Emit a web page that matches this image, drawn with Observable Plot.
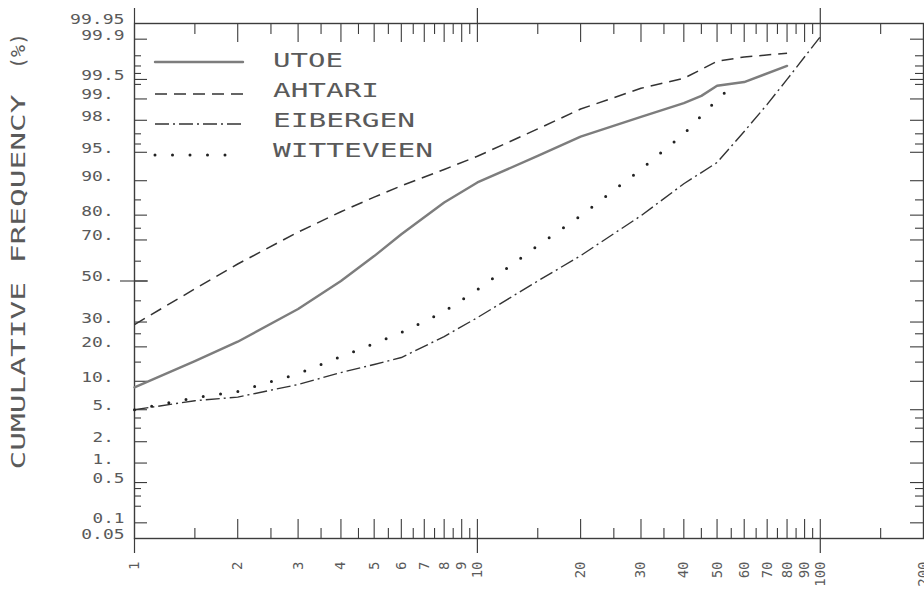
<!DOCTYPE html>
<html>
<head>
<meta charset="utf-8">
<script src="https://cdn.jsdelivr.net/npm/d3@7"></script>
<script src="https://cdn.jsdelivr.net/npm/@observablehq/plot@0.6"></script>
<style>
  html, body { margin: 0; padding: 0; background: #fff; }
  #chart svg { display: block; }
</style>
</head>
<body>
<div id="chart"></div>
<script>
// ---------------- data ----------------
const seriesNames = ["UTOE", "AHTARI", "EIBERGEN", "WITTEVEEN"];

const utoeX = [1, 1.5, 2, 3, 4, 5, 6, 8, 10, 15, 20, 30, 40, 45, 50, 60, 80];
const utoeP = [8.7, 15.3, 21.9, 36, 50, 62.5, 72.5, 84.2, 89.6, 94.5, 96.75, 98.2, 98.85, 99.1, 99.37, 99.45, 99.70];

const ahtariX = [1, 1.5, 2, 3, 4, 5, 6, 8, 10, 15, 20, 30, 40, 50, 60, 80];
const ahtariP = [28.9, 46, 58.6, 73.4, 81.2, 85.8, 88.8, 92.3, 94.45, 97.4, 98.6, 99.31, 99.52, 99.75, 99.79, 99.82];

const eibergenX = [1, 1.5, 2, 3, 4, 5, 6, 8, 10, 15, 20, 30, 40, 50, 60, 70, 80, 100];
const eibergenP = [5.0, 6.3, 6.9, 9.3, 12.1, 14.3, 16.4, 23.9, 32, 50, 62.7, 79.8, 89.3, 93.5, 97.2, 98.8, 99.5, 99.91];

const witteveenX = [1, 1.5, 2, 3, 4, 5, 6, 8, 10, 15, 20, 30, 40, 50, 55];
const witteveenP = [5.0, 6.8, 7.9, 11.8, 16.7, 21.2, 25.5, 34.8, 45.6, 67.4, 79.8, 92.3, 97.0, 98.97, 99.35];

// axis ticks
const xLabelValues = [1, 2, 3, 4, 5, 6, 7, 8, 9, 10, 20, 30, 40, 50, 60, 70, 80, 90, 100, 200];
const xMajorTicks = [2, 3, 4, 5, 6, 7, 8, 9, 10, 20, 30, 40, 50, 60, 70, 80, 90, 100];
const xMinorTicks = [1.5, 2.5, 3.5, 4.5, 5.5, 6.5, 7.5, 8.5, 9.5, 15, 25, 35, 45, 55, 65, 75, 85, 95, 150];
const xCrossTicks = [1, 10, 100];

const yLabelValues = [99.95, 99.9, 99.5, 99, 98, 95, 90, 80, 70, 50, 30, 20, 10, 5, 2, 1, 0.5, 0.1, 0.05];
const yLabelTexts = ["99.95", "99.9", "99.5", "99.", "98.", "95.", "90.", "80.", "70.", "50.", "30.", "20.", "10.", "5.", "2.", "1.", "0.5", "0.1", "0.05"];
const yMajorTicks = [99.9, 99.5, 99, 98, 95, 90, 80, 70, 50, 30, 20, 10, 5, 2, 1, 0.5, 0.1];
const yMinorTicks = [99.8, 99.7, 99.6, 99.4, 97, 96, 85, 75, 60, 40, 25, 15, 4, 3, 0.4, 0.3, 0.2];
const yCrossTicks = [50];

const yTitle = "CUMULATIVE FREQUENCY";
const yUnit = "(%)";

// ---------------- helpers ----------------
// inverse standard normal CDF (probability-paper scale), input in percent
function probit(pct) {
  const p = pct / 100;
  const a = [-3.969683028665376e+01, 2.209460984245205e+02, -2.759285104469687e+02, 1.383577518672690e+02, -3.066479806614716e+01, 2.506628277459239e+00];
  const b = [-5.447609879822406e+01, 1.615858368580409e+02, -1.556989798598866e+02, 6.680131188771972e+01, -1.328068155288572e+01];
  const c = [-7.784894002430293e-03, -3.223964580411365e-01, -2.400758277161838e+00, -2.549671348234089e+00, 4.374664141464968e+00, 2.938163982698783e+00];
  const d = [7.784695709041462e-03, 3.224671290700398e-01, 2.445134137142996e+00, 3.754408661907416e+00];
  const pl = 0.02425, ph = 1 - pl;
  if (p < pl) {
    const q = Math.sqrt(-2 * Math.log(p));
    return (((((c[0]*q+c[1])*q+c[2])*q+c[3])*q+c[4])*q+c[5]) / ((((d[0]*q+d[1])*q+d[2])*q+d[3])*q+1);
  }
  if (p <= ph) {
    const q = p - 0.5, r = q * q;
    return (((((a[0]*r+a[1])*r+a[2])*r+a[3])*r+a[4])*r+a[5])*q / (((((b[0]*r+b[1])*r+b[2])*r+b[3])*r+b[4])*r+1);
  }
  const q = Math.sqrt(-2 * Math.log(1 - p));
  return -(((((c[0]*q+c[1])*q+c[2])*q+c[3])*q+c[4])*q+c[5]) / ((((d[0]*q+d[1])*q+d[2])*q+d[3])*q+1);
}

const toRows = (name, xs, ps) => xs.map((x, i) => ({series: name, x, p: ps[i]}));
const rows = {
  UTOE: toRows("UTOE", utoeX, utoeP),
  AHTARI: toRows("AHTARI", ahtariX, ahtariP),
  EIBERGEN: toRows("EIBERGEN", eibergenX, eibergenP),
  WITTEVEEN: toRows("WITTEVEEN", witteveenX, witteveenP)
};

const styles = {
  UTOE: {stroke: "#7d7d7d", strokeWidth: 2.4, strokeDasharray: null, strokeLinecap: "round"},
  AHTARI: {stroke: "#333", strokeWidth: 1.5, strokeDasharray: "12,7", strokeLinecap: "butt"},
  EIBERGEN: {stroke: "#333", strokeWidth: 1.4, strokeDasharray: "14,4,2,4", strokeLinecap: "butt"},
  WITTEVEEN: {stroke: "#222", strokeWidth: 3, strokeDasharray: "0,17.5", strokeLinecap: "round"}
};

const labelMap = new Map(yLabelValues.map((v, i) => [probit(v), yLabelTexts[i] + (yLabelTexts[i].endsWith(".") ? "\u00a0" : "")]));

// layout
const W = 924, H = 596, mL = 134, mR = 1, mT = 23, mB = 58;
const fw = W - mL - mR, fh = H - mT - mB;   // frame size in px

const axisColor = "#3c3c3c";
const textColor = "#5a5a5a";
const mono = "DejaVu Sans Mono";

const chart = Plot.plot({
  width: W,
  height: H,
  marginLeft: mL,
  marginRight: mR,
  marginTop: mT,
  marginBottom: mB,
  style: {background: "#fff", overflow: "visible"},
  x: {type: "log", domain: [1, 200], axis: null},
  y: {type: "linear", domain: [probit(0.05), probit(99.95)], axis: null},
  marks: [
    // inward ticks on top and bottom edges
    Plot.tickX(xMajorTicks, {x: d => d, insetBottom: fh - 19, stroke: axisColor, strokeWidth: 1.1}),
    Plot.tickX(xMinorTicks, {x: d => d, insetBottom: fh - 11, stroke: axisColor, strokeWidth: 1.1}),
    Plot.tickX(xMajorTicks, {x: d => d, insetTop: fh - 19, stroke: axisColor, strokeWidth: 1.1}),
    Plot.tickX(xMinorTicks, {x: d => d, insetTop: fh - 10, stroke: axisColor, strokeWidth: 1.1}),
    // decade lines crossing the edges
    Plot.tickX(xCrossTicks, {x: d => d, insetTop: -15, insetBottom: fh, stroke: axisColor, strokeWidth: 1.2}),
    Plot.tickX(xCrossTicks, {x: d => d, insetTop: fh, insetBottom: -15, stroke: axisColor, strokeWidth: 1.2}),
    // inward ticks on left and right edges
    Plot.tickY(yMajorTicks, {y: d => probit(d), insetRight: fw - 13, stroke: axisColor, strokeWidth: 1.1}),
    Plot.tickY(yMinorTicks, {y: d => probit(d), insetRight: fw - 7, stroke: axisColor, strokeWidth: 1.1}),
    Plot.tickY(yMajorTicks, {y: d => probit(d), insetLeft: fw - 13, stroke: axisColor, strokeWidth: 1.1}),
    Plot.tickY(yMinorTicks, {y: d => probit(d), insetLeft: fw - 8, stroke: axisColor, strokeWidth: 1.1}),
    Plot.tickY(yCrossTicks, {y: d => probit(d), insetLeft: -14, insetRight: fw - 14, stroke: axisColor, strokeWidth: 1.1}),
    // tick labels
    Plot.text(xLabelValues, {x: d => d, frameAnchor: "bottom", dy: 23, rotate: -90,
      textAnchor: "end", lineAnchor: "middle", text: d => String(d),
      fill: textColor, fontFamily: mono, fontSize: 14, ariaLabel: "x-tick-label"}),
    Plot.axisY({anchor: "left", ticks: yLabelValues.map(probit), tickSize: 0, tickPadding: 10, dy: -4,
      tickFormat: z => labelMap.get(z), fill: textColor, fontFamily: mono, fontSize: 14, label: null}),
    // frame
    Plot.frame({stroke: axisColor, strokeWidth: 1.4}),
    // data lines
    ...seriesNames.map(name => Plot.line(rows[name], {
      x: "x",
      y: d => probit(d.p),
      ...styles[name],
      strokeLinejoin: "round"
    }))
  ]
});

document.getElementById("chart").appendChild(chart);

// stretch the plotter-style lettering
const svg = d3.select(chart);
svg.selectAll('g[aria-label="y-axis tick label"] text').each(function () {
  const n = this.textContent.length;
  this.setAttribute("textLength", 11.3 * n - 2);
  this.setAttribute("lengthAdjust", "spacingAndGlyphs");
});
svg.selectAll('g[aria-label="x-tick-label"] text').each(function () {
  const n = this.textContent.length;
  this.setAttribute("textLength", 11.2 * n - 2);
  this.setAttribute("lengthAdjust", "spacingAndGlyphs");
});

// legend (top-left inside the frame)
const legendRows = [
  {name: "UTOE", lineY: 62, textY: 67, x2: 243},
  {name: "AHTARI", lineY: 94, textY: 97, x2: 243},
  {name: "EIBERGEN", lineY: 124, textY: 127, x2: 243},
  {name: "WITTEVEEN", lineY: 155, textY: 157, x2: 229}
];
const lg = svg.append("g").attr("class", "legend");
legendRows.forEach(r => {
  const s = styles[r.name];
  lg.append("line")
    .attr("x1", 155).attr("x2", r.x2).attr("y1", r.lineY).attr("y2", r.lineY)
    .attr("stroke", s.stroke).attr("stroke-width", s.strokeWidth)
    .attr("stroke-dasharray", s.name === "WITTEVEEN" ? "0,18" : s.strokeDasharray)
    .attr("stroke-linecap", s.strokeLinecap);
  lg.append("text")
    .attr("x", 273).attr("y", r.textY)
    .attr("text-anchor", "start")
    .attr("font-family", mono).attr("font-size", 19).attr("fill", textColor)
    .attr("textLength", 18 * r.name.length - 2).attr("lengthAdjust", "spacingAndGlyphs")
    .text(r.name);
});

// y-axis title (rotated)
svg.append("text")
  .attr("transform", "translate(25,282) rotate(-90)")
  .attr("text-anchor", "middle")
  .attr("font-family", mono).attr("font-size", 19).attr("fill", textColor)
  .attr("textLength", 375).attr("lengthAdjust", "spacingAndGlyphs")
  .text(yTitle);
svg.append("text")
  .attr("transform", "translate(25,51) rotate(-90)")
  .attr("text-anchor", "middle")
  .attr("font-family", mono).attr("font-size", 19).attr("fill", textColor)
  .attr("textLength", 36).attr("lengthAdjust", "spacingAndGlyphs")
  .text(yUnit);
</script>
</body>
</html>
